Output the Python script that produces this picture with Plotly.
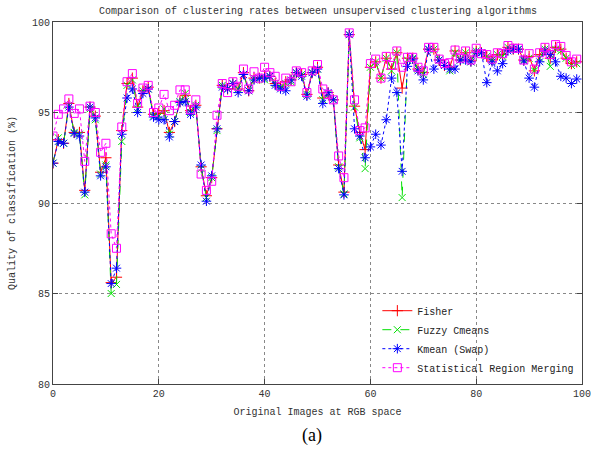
import plotly.graph_objects as go

images = list(range(100))

fisher = [92.2, 93.5, 93.3, 95.5, 93.9, 93.9, 90.7, 95.3, 94.8, 91.7,
          92.5, 85.6, 85.9, 94.0, 96.6, 96.9, 95.3, 96.2, 96.4, 94.9,
          94.95, 95.1, 93.9, 94.5, 95.6, 95.95, 95.1, 95.4, 92.0, 90.4,
          91.4, 94.1, 96.5, 96.3, 96.6, 96.3, 97.2, 96.2, 96.9, 96.9,
          97.0, 97.0, 96.6, 96.4, 96.7, 96.8, 97.2, 97.1, 96.0, 97.2,
          97.5, 95.8, 96.1, 95.7, 92.1, 90.6, 99.3, 95.35, 93.9, 92.95,
          97.5, 97.8, 96.9, 98.0, 97.4, 98.3, 96.35, 98.0, 98.0, 97.4,
          97.2, 98.5, 98.5, 97.9, 97.6, 97.5, 98.4, 97.9, 98.3, 97.85,
          98.4, 98.3, 98.1, 97.9, 98.2, 98.2, 98.6, 98.5, 98.5, 97.9,
          98.1, 97.3, 98.2, 98.5, 98.0, 98.6, 98.5, 98.0, 97.7, 97.8]

fuzzy = [92.2, 93.6, 93.3, 95.4, 93.9, 93.8, 90.45, 95.2, 94.6, 91.6,
         92.1, 85.0, 85.5, 93.4, 96.5, 96.8, 95.2, 96.2, 96.3, 94.8,
         94.8, 95.2, 93.8, 94.5, 95.6, 96.05, 95.0, 95.4, 91.9, 90.3,
         91.4, 94.0, 96.5, 96.3, 96.6, 96.3, 97.1, 96.2, 96.9, 96.9,
         96.8, 97.0, 96.6, 96.4, 96.6, 96.7, 97.2, 97.1, 96.0, 97.2,
         97.4, 95.7, 96.0, 95.7, 92.0, 90.5, 99.3, 95.3, 93.6, 91.9,
         97.5, 97.8, 96.9, 98.0, 97.3, 98.3, 90.3, 97.9, 98.0, 97.4,
         97.1, 98.5, 98.5, 97.9, 97.6, 97.3, 98.3, 97.9, 98.3, 97.8,
         98.4, 98.3, 98.1, 97.9, 98.2, 98.1, 98.6, 98.5, 98.5, 97.9,
         98.0, 97.3, 98.0, 98.5, 97.55, 98.5, 98.4, 98.0, 97.6, 97.7]

kmean = [92.2, 93.4, 93.3, 95.3, 93.85, 93.7, 90.6, 95.3, 94.7, 91.5,
         92.0, 85.55, 86.4, 93.8, 95.8, 96.3, 95.0, 96.05, 96.3, 94.75,
         94.6, 94.6, 93.65, 94.5, 95.55, 95.6, 94.9, 95.3, 92.1, 90.1,
         91.5, 94.1, 96.4, 96.3, 96.6, 96.1, 97.1, 96.2, 96.8, 96.9,
         96.9, 97.0, 96.5, 96.3, 96.2, 96.8, 97.2, 97.0, 95.9, 97.2,
         97.4, 95.5, 96.1, 95.7, 91.9, 90.45, 99.3, 94.1, 93.7, 92.5,
         93.1, 93.8, 93.2, 94.6, 96.9, 96.1, 91.75, 97.55, 97.95, 97.3,
         96.8, 98.5, 97.4, 97.9, 97.6, 97.4, 97.4, 97.9, 97.9, 97.8,
         98.3, 98.3, 96.65, 97.8, 97.3, 97.7, 98.4, 98.5, 98.5, 97.85,
         96.9, 96.4, 97.8, 98.4, 98.2, 97.8, 97.0, 96.9, 96.6, 96.85]

srm = [93.7, 94.9, 95.2, 95.75, 94.95, 95.2, 92.3, 95.35, 95.0, 92.8,
       93.3, 88.3, 87.5, 94.2, 96.7, 97.15, 95.5, 96.35, 96.5, 95.0,
       95.25, 96.0, 95.1, 95.4, 96.25, 96.25, 95.15, 95.7, 91.6, 90.7,
       91.2, 94.85, 96.6, 96.1, 96.7, 96.45, 97.4, 96.3, 97.25, 96.9,
       97.5, 97.2, 97.0, 96.45, 96.9, 96.7, 97.3, 97.2, 96.1, 97.3,
       97.65, 96.3, 96.0, 95.7, 92.6, 91.4, 99.4, 95.7, 94.0, 94.15,
       97.7, 97.95, 96.9, 98.1, 97.6, 98.4, 97.5, 98.05, 98.05, 97.5,
       97.3, 98.6, 98.6, 97.95, 97.7, 97.75, 98.45, 98.0, 98.4, 97.9,
       98.55, 98.25, 98.2, 97.95, 98.3, 98.25, 98.7, 98.55, 98.55, 97.9,
       98.25, 97.4, 98.3, 98.6, 98.2, 98.75, 98.65, 98.15, 97.8, 97.95]

x_ticks = [0, 20, 40, 60, 80, 100]
y_ticks = [80, 85, 90, 95, 100]

MONO = "Liberation Mono"

fig = go.Figure()
series = [
    ("Fisher", fisher, "#ff0000", "solid", "cross-thin", 8),
    ("Fuzzy Cmeans", fuzzy, "#00e000", "dash", "x-thin", 7),
    ("Kmean (Swap)", kmean, "#0000ff", "dot", "asterisk", 8),
    ("Statistical Region Merging", srm, "#ff00ff", "dot", "square-open", 8),
]
for name, ys, col, dash, sym, sz in series:
    fig.add_trace(go.Scatter(
        x=images, y=ys, name=name, mode="lines+markers",
        line=dict(color=col, width=1, dash=dash),
        marker=dict(symbol=sym, size=sz, color=col, line=dict(color=col, width=1)),
    ))

axis_common = dict(
    showline=True, linecolor="#444", linewidth=1, mirror="allticks",
    ticks="inside", ticklen=5, tickcolor="#444",
    showgrid=True, gridcolor="#888", griddash="dot", gridwidth=1,
    zeroline=False, tickfont=dict(family=MONO, size=10, color="#333"),
    ticklabeloverflow="allow",
)
fig.update_xaxes(range=[0, 100], tickvals=x_ticks, ticktext=[str(v) for v in x_ticks],
                 **axis_common,
                 title=dict(text="Original Images at RGB space",
                            font=dict(family=MONO, size=10, color="#333"), standoff=8))
fig.update_yaxes(range=[80, 100], tickvals=y_ticks, **axis_common,
                 title=dict(text="Quality of classification (%)",
                            font=dict(family=MONO, size=10, color="#333"), standoff=14))

fig.update_layout(
    width=591, height=457,
    margin=dict(l=53, r=9, t=22, b=73, autoexpand=False),
    paper_bgcolor="white", plot_bgcolor="white",
    title=dict(text="Comparison of clustering rates between unsupervised clustering algorithms",
               font=dict(family=MONO, size=10, color="#333"),
               x=0.538, xanchor="center", y=0.985, yanchor="top"),
    legend=dict(x=0.995, y=0.005, xanchor="right", yanchor="bottom",
                bgcolor="rgba(0,0,0,0)", font=dict(family=MONO, size=10, color="#222"),
                tracegroupgap=0, itemwidth=30),
    showlegend=True,
    annotations=[dict(text="(a)", x=0.49, y=-0.1436, xref="paper", yref="paper",
                      yanchor="middle", showarrow=False,
                      font=dict(family="Liberation Serif", size=18, color="black"))],
)

fig.write_html("out.html")
